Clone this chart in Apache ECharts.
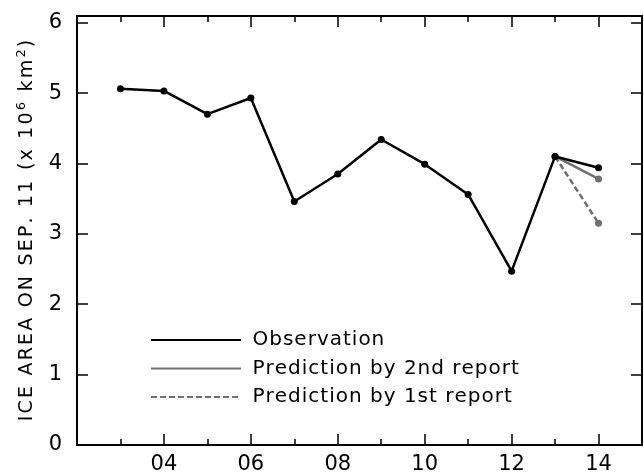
<!DOCTYPE html>
<html><head><meta charset="utf-8">
<script src="https://cdn.jsdelivr.net/npm/echarts@6/dist/echarts.min.js"></script>
<style>html,body{margin:0;padding:0;background:#fff}#c{width:644px;height:475px}</style>
</head><body><div id="c"></div>
<script>
const years = [3,4,5,6,7,8,9,10,11,12,13,14];
const observation = [5.06,5.03,4.70,4.93,3.46,3.85,4.34,3.99,3.56,2.47,4.10,3.94];
const pred2Years = [13,14];
const pred2 = [4.10,3.78];
const pred1Years = [13,14];
const pred1 = [4.10,3.15];
const xTickLabels = {4:'04',6:'06',8:'08',10:'10',12:'12',14:'14'};
const yTickLabels = [0,1,2,3,4,5,6];
const seriesNames = ['Observation','Prediction by 2nd report','Prediction by 1st report'];

const F = 'DejaVu Sans';
const chart = echarts.init(document.getElementById('c'));
const zip = (xs, ys) => xs.map((x,i)=>[x, ys[i]]);
const spaced = (s, st) => s.split('').map(c=>'{'+st+'|'+c+'}').join('');
const frame = {show:true, lineStyle:{color:'#000', width:2}};
const tickStyle = {color:'#000', width:1.5};
function xAx(pos, interval, len, line, labels){
  return {type:'value', min:2, max:15, interval, position:pos, gridIndex:0,
    axisLine: line ? frame : {show:false}, splitLine:{show:false},
    axisTick:{show:true, inside:true, length:len, lineStyle:tickStyle},
    axisLabel: labels ? {margin:9, fontFamily:F, fontSize:21, color:'#000', formatter:v=>xTickLabels[v]||''} : {show:false}};
}
const yName = spaced('ICE AREA ON SEP. 11 (x 10','c') + '{s|6}' + spaced(' km','c') + '{s|2}' + spaced(')','c');
chart.setOption({
  animation:false,
  grid:{left:77, right:2, top:16, bottom:30, show:false, outerBoundsMode:'none', containLabel:false},
  xAxis:[ xAx('bottom',2,11,true,true), xAx('bottom',1,6,false,false),
          xAx('top',2,11,true,false), xAx('top',1,6,false,false) ],
  yAxis:[{
    type:'value', min:0, max:6.095, interval:1, position:'left',
    axisLine:frame, splitLine:{show:false},
    axisTick:{show:true, inside:true, length:11, lineStyle:tickStyle},
    axisLabel:{margin:15, fontFamily:F, fontSize:21, color:'#000', formatter:v=>yTickLabels.includes(v)?String(v):''},
    name:yName, nameLocation:'middle', nameGap:38, nameRotate:90,
    nameTextStyle:{rich:{
      c:{fontFamily:F, fontSize:19, color:'#000', padding:[0,1.1,0,1.1]},
      s:{fontFamily:F, fontSize:13, color:'#000', padding:[0,1.1,11,1.1]}}}
  },{
    type:'value', min:0, max:6.095, interval:1, position:'right',
    axisLine:frame, splitLine:{show:false},
    axisTick:{show:true, inside:true, length:11, lineStyle:tickStyle},
    axisLabel:{show:false}
  }],
  legend:{
    orient:'vertical', left:150, top:330, padding:0, itemWidth:90, itemHeight:14, itemGap:8.5,
    data:seriesNames,
    itemStyle:{opacity:0},
    formatter:name=>spaced(name,'c'),
    textStyle:{fontFamily:F, fontSize:20, color:'#000', padding:[0,0,0,6],
      rich:{c:{fontFamily:F, fontSize:20, color:'#000', padding:[0,0.5,0,0.5]}}}
  },
  series:[
    {name:seriesNames[2], type:'line', data:zip(pred1Years,pred1), z:2,
      symbol:'circle', symbolSize:7,
      lineStyle:{color:'#707070', width:2.5, type:[6,3]}, itemStyle:{color:'#707070'}},
    {name:seriesNames[1], type:'line', data:zip(pred2Years,pred2), z:3,
      symbol:'circle', symbolSize:7,
      lineStyle:{color:'#707070', width:2.5}, itemStyle:{color:'#707070'}},
    {name:seriesNames[0], type:'line', data:zip(years,observation), z:4,
      symbol:'circle', symbolSize:7,
      lineStyle:{color:'#000', width:2.5}, itemStyle:{color:'#000'}}
  ]
});
</script></body></html>
